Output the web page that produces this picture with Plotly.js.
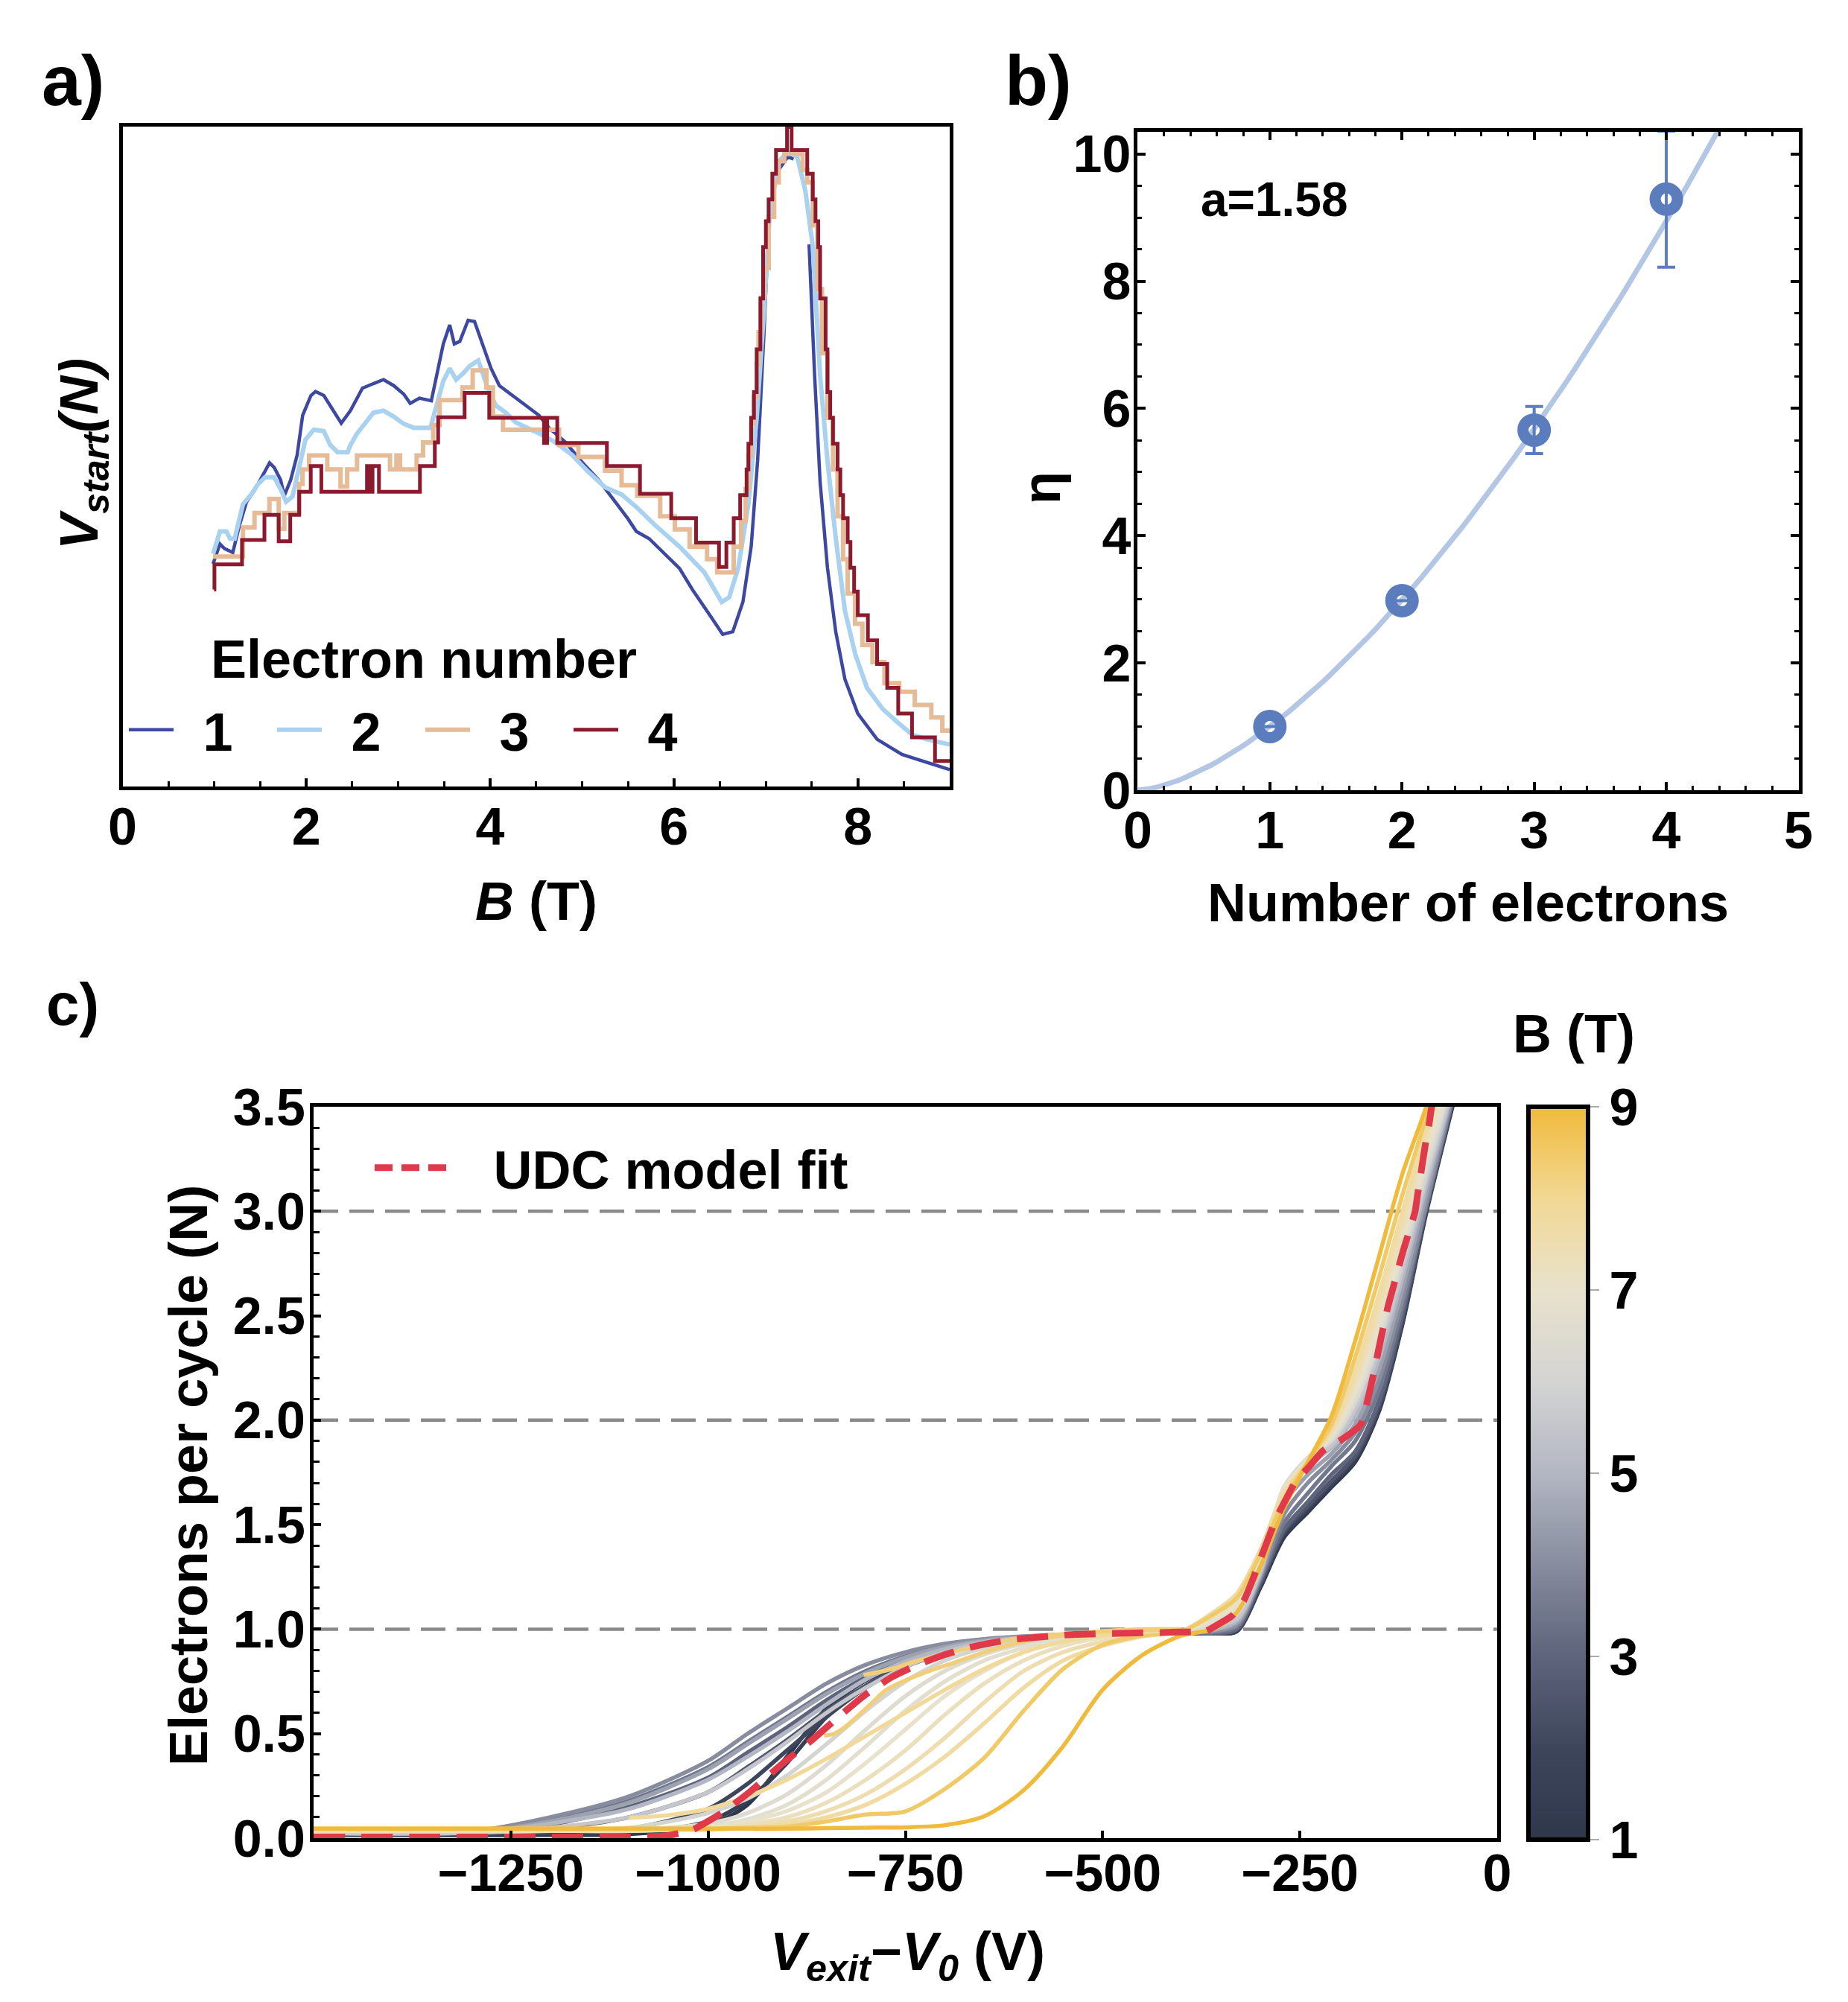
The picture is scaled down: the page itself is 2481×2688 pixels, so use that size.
<!DOCTYPE html>
<html><head><meta charset="utf-8">
<script src="https://cdn.plot.ly/plotly-3.0.1.min.js"></script>
<style>html,body{margin:0;padding:0;background:#fff}</style>
</head><body>
<div id="chart" style="width:2481px;height:2688px"></div>
<script>
// ================= DATA =================
// ---- Panel a: V_start(N) vs B (arbitrary units 0-100) ----
const electronLabels = ['1', '2', '3', '4'];
const a1B = [0.985,1.06,1.11,1.20,1.27,1.35,1.44,1.53,1.60,1.65,1.72,1.76,1.83,1.90,1.96,2.05,2.10,2.19,2.30,2.38,2.48,2.61,2.73,2.84,2.95,3.06,3.13,3.23,3.36,3.43,3.49,3.56,3.61,3.67,3.76,3.83,3.88,3.94,4.01,4.10,4.24,4.39,4.53,4.64,4.82,5.00,5.18,5.36,5.50,5.59,5.73,6.06,6.20,6.40,6.53,6.64,6.75,6.84,6.91,6.98,7.03,7.11,7.24,7.30,7.40,7.47,7.53,7.59,7.67,7.76,7.86,8.00,8.21,8.48,8.75,8.92,9.0];
const a1V = [33.7,36.7,36.0,35.4,39.4,43.1,44.9,47.2,49.0,48.3,46.4,44.0,46.4,50.2,56.2,59.2,59.8,59.2,56.9,55.0,56.9,60.3,61.0,61.6,60.7,59.4,58.0,58.8,58.4,63.3,67.0,69.9,67.0,67.4,70.6,70.4,68.5,66.0,63.3,60.7,59.2,57.7,56.2,54.3,52.1,49.1,46.4,43.1,40.5,38.6,37.5,33.0,29.8,25.7,23.0,23.4,27.9,36.3,49.3,68.8,85.0,92.8,95.4,95.0,null,82.1,62.3,46.1,33.1,23.4,16.2,11.0,7.1,4.8,3.6,2.9,2.5];
const a2B = [0.985,1.06,1.13,1.17,1.22,1.31,1.40,1.47,1.55,1.65,1.72,1.78,1.85,1.92,1.99,2.08,2.19,2.26,2.34,2.45,2.48,2.55,2.66,2.73,2.84,2.95,3.06,3.17,3.35,3.42,3.49,3.56,3.63,3.71,3.78,3.87,3.92,3.99,4.06,4.17,4.28,4.46,4.57,4.71,4.89,5.07,5.25,5.43,5.59,5.79,6.06,6.33,6.52,6.60,6.70,6.81,6.90,6.98,7.04,7.14,7.24,7.34,7.43,7.51,7.59,7.67,7.76,7.86,7.97,8.10,8.27,8.43,8.59,8.75,8.92,9.0];
const a2V = [35.2,38.6,38.6,37.5,37.5,42.7,44.2,45.7,46.8,46.8,45.0,43.1,43.9,48.0,52.5,54.0,53.8,51.7,50.6,50.6,51.7,53.4,55.3,56.6,56.9,56.0,54.9,54.3,54.3,57.7,61.4,63.3,61.6,62.6,63.7,64.5,62.3,59.7,57.7,56.6,55.1,54.0,53.2,52.1,50.2,47.6,45.3,44.2,42.3,39.6,36.3,32.4,27.9,28.6,33.1,42.8,55.8,72.0,86.3,94.7,96.1,95.4,90.2,81.8,62.3,49.3,37.6,26.6,20.1,14.9,11.7,9.7,7.8,7.1,6.5,6.3];
const a3B = [0.985,1.31,1.436,1.598,1.70,1.76,1.922,1.958,2.03,2.228,2.372,2.444,2.552,2.91,2.98,3.02,3.20,3.27,3.38,3.45,3.70,3.81,3.96,4.03,4.14,4.75,4.96,5.25,5.43,5.60,5.85,6.01,6.17,6.36,6.47,6.65,6.73,6.78,6.81,6.84,6.87,6.90,6.92,6.95,6.98,7.03,7.09,7.14,7.20,7.40,7.45,7.51,7.56,7.61,7.67,7.73,7.78,7.84,7.89,7.97,8.05,8.16,8.29,8.45,8.62,8.80,8.92,9.0];
const a3V = [34.8,39.2,41.4,43.5,39.0,41.4,45.8,48.0,50.1,48.0,45.4,48.0,50.1,48.0,50.1,48.0,50.1,52.1,54.7,58.5,60.4,63.0,60.4,56.0,54.0,51.7,49.9,47.8,45.6,44.0,40.9,38.9,36.3,34.4,32.4,36.3,40.2,45.0,50.0,55.0,59.0,64.0,68.8,74.0,78.5,86.3,91.5,94.7,95.8,93.4,91.5,85.0,75.3,65.6,55.8,48.0,40.9,34.4,29.2,24.6,21.4,18.8,15.6,14.3,12.3,10.4,8.4,8.4];
const a4B = [0.996,1.0,1.30,1.544,1.699,1.825,1.922,2.048,2.163,2.66,2.70,2.72,2.79,3.236,3.398,3.434,3.722,3.99,4.586,4.62,4.73,5.27,5.63,5.97,6.24,6.49,6.57,6.65,6.72,6.79,6.81,6.84,6.87,6.90,6.94,6.97,7.00,7.03,7.07,7.11,7.23,7.28,7.45,7.51,7.54,7.57,7.59,7.65,7.67,7.70,7.73,7.78,7.81,7.84,7.89,7.92,7.96,8.00,8.11,8.21,8.32,8.44,8.59,8.84,9.0];
const a4V = [29.8,33.6,37.3,41.1,37.1,41.1,44.6,48.5,44.6,48.5,44.6,48.5,44.6,48.5,52.1,55.9,59.6,55.8,52.0,55.8,52.0,48.5,44.3,40.6,36.9,33.2,36.9,40.6,44.1,48.0,51.9,55.8,59.7,66.2,73.9,81.7,85.6,88.9,92.8,96.4,99.9,96.4,92.8,88.9,85.6,81.7,73.9,66.2,59.7,55.8,51.9,48.0,44.1,40.6,37.0,33.1,29.5,25.9,22.1,18.5,14.9,11.0,7.4,3.8,3.8];

// ---- Panel b: eta vs number of electrons ----
const bN = [1, 2, 3, 4];
const bEta = [1.0, 2.98, 5.66, 9.29];
const bErr = [0, 0, 0.37, 1.07];
const fitExponent = 1.58;
const fitN = [];
for (let i = 0; i <= 90; i++) fitN.push(i * 0.05);

// ---- Panel c: electrons per cycle vs V_exit - V0 ----
const cV = [-1500,-1300,-1200,-1100,-1000,-950,-900,-850,-800,-750,-700,-650,-600,-550,-500,-450,-400,-360,-330,-300,-270,-240,-210,-180,-150,-120,-90,-60,-40];
const cFieldB = [1, 1.5, 2, 2.5, 3, 3.5, 4, 4.5, 5, 5.5, 6, 6.5, 6.75, 7, 7.25, 7.5, 7.75, 8.5, 9];
const cCurves = [
 [0.015,0.015,0.015,0.02,0.06,0.16,0.39,0.62,0.755,0.84,0.90,0.94,0.958,0.968,0.975,0.98,0.983,0.98,0.99,1.20,1.44,1.56,1.68,1.80,2.04,2.46,2.99,3.45,3.75],
 [0.015,0.015,0.017,0.025,0.08,0.18,0.36,0.58,0.73,0.83,0.895,0.935,0.955,0.966,0.974,0.979,0.983,0.98,0.99,1.21,1.45,1.57,1.69,1.81,2.05,2.47,3.0,3.46,3.76],
 [0.02,0.02,0.025,0.045,0.14,0.26,0.42,0.58,0.72,0.82,0.885,0.928,0.952,0.965,0.973,0.978,0.983,0.98,0.995,1.21,1.46,1.58,1.70,1.82,2.05,2.47,3.0,3.46,3.76],
 [0.02,0.022,0.045,0.10,0.22,0.34,0.47,0.61,0.73,0.83,0.89,0.93,0.953,0.966,0.974,0.979,0.984,0.98,1.0,1.22,1.47,1.59,1.71,1.83,2.07,2.49,3.01,3.47,3.77],
 [0.02,0.025,0.065,0.15,0.29,0.41,0.53,0.66,0.77,0.85,0.905,0.94,0.958,0.968,0.975,0.98,0.985,0.98,1.0,1.23,1.48,1.61,1.74,1.85,2.09,2.51,3.03,3.48,3.78],
 [0.025,0.03,0.085,0.18,0.34,0.46,0.58,0.70,0.80,0.87,0.915,0.945,0.962,0.971,0.977,0.982,0.986,0.985,1.01,1.24,1.51,1.65,1.78,1.90,2.14,2.54,3.02,3.48,3.78],
 [0.025,0.032,0.10,0.20,0.37,0.50,0.62,0.74,0.83,0.89,0.93,0.953,0.966,0.974,0.979,0.983,0.987,0.99,1.02,1.25,1.55,1.70,1.81,1.94,2.19,2.58,3.04,3.5,3.8],
 [0.025,0.03,0.08,0.17,0.33,0.45,0.57,0.69,0.79,0.865,0.915,0.946,0.963,0.972,0.978,0.982,0.986,0.995,1.03,1.26,1.60,1.74,1.84,1.98,2.24,2.63,3.08,3.52,3.8],
 [0.025,0.028,0.07,0.14,0.28,0.39,0.51,0.64,0.76,0.845,0.905,0.94,0.96,0.97,0.977,0.982,0.987,1.0,1.04,1.27,1.65,1.78,1.87,2.02,2.29,2.68,3.12,3.53,3.82],
 [0.025,0.026,0.05,0.10,0.22,0.33,0.46,0.60,0.72,0.82,0.89,0.932,0.956,0.968,0.976,0.982,0.988,1.01,1.05,1.28,1.67,1.80,1.88,2.05,2.33,2.72,3.15,3.55,3.85],
 [0.03,0.03,0.035,0.05,0.12,0.19,0.30,0.45,0.61,0.75,0.85,0.91,0.945,0.965,0.975,0.983,0.99,1.02,1.07,1.30,1.68,1.82,1.90,2.08,2.37,2.76,3.18,3.58,3.85],
 [0.035,0.035,0.035,0.04,0.07,0.12,0.21,0.35,0.52,0.68,0.80,0.88,0.93,0.96,0.975,0.985,0.99,1.03,1.09,1.32,1.68,1.82,1.91,2.10,2.40,2.80,3.22,3.6,3.88],
 [0.035,0.035,0.035,0.035,0.055,0.09,0.16,0.28,0.44,0.61,0.75,0.85,0.91,0.95,0.97,0.985,0.99,1.04,1.10,1.33,1.67,1.81,1.92,2.12,2.43,2.82,3.25,3.6,3.88],
 [0.035,0.035,0.035,0.035,0.05,0.08,0.13,0.22,0.36,0.52,0.68,0.80,0.89,0.94,0.965,0.98,0.99,1.05,1.12,1.35,1.67,1.81,1.93,2.14,2.46,2.86,3.28,3.65,3.9],
 [0.035,0.035,0.035,0.035,0.045,0.065,0.10,0.17,0.28,0.42,0.59,0.74,0.85,0.92,0.96,0.98,0.99,1.06,1.14,1.37,1.66,1.80,1.94,2.17,2.50,2.90,3.32,3.7,3.9],
 [0.04,0.04,0.04,0.04,0.04,0.055,0.08,0.13,0.21,0.33,0.48,0.65,0.80,0.89,0.94,0.97,0.99,1.07,1.16,1.38,1.66,1.80,1.95,2.20,2.55,2.95,3.36,3.75,3.95],
 [0.04,0.04,0.04,0.04,0.04,0.05,0.065,0.10,0.16,0.26,0.39,0.55,0.72,0.85,0.92,0.965,0.99,1.08,1.17,1.38,1.65,1.80,1.96,2.24,2.60,3.00,3.40,3.8,4.0],
 [0.045,0.045,0.045,0.045,0.045,0.05,0.055,0.08,0.113,0.128,0.235,0.385,0.61,0.81,0.925,0.97,0.99,1.07,1.15,1.36,1.62,1.80,1.98,2.30,2.68,3.08,3.45,3.85,4.0],
 [0.045,0.045,0.045,0.045,0.045,0.045,0.045,0.048,0.05,0.052,0.062,0.105,0.23,0.44,0.71,0.875,0.97,1.0,1.08,1.30,1.58,1.80,2.02,2.38,2.78,3.18,3.50,3.9,4.0]
];
// partial sweeps
const cPartB = [7.9, 8.3, 8.3];
const cPartV = [
 [-1100,-1050,-1000,-950,-900,-850,-800,-750,-700,-650,-600,-550,-500,-450,-400],
 [-853,-840,-827,-800,-774,-747,-720,-688,-650,-600,-550,-500,-450,-400],
 [-803,-767,-734,-701,-668,-602,-536,-469,-400]
];
const cPartN = [
 [0.097,0.11,0.14,0.20,0.28,0.38,0.49,0.60,0.71,0.81,0.89,0.94,0.97,0.985,0.995],
 [0.49,0.50,0.53,0.62,0.71,0.76,0.80,0.84,0.89,0.94,0.97,0.99,1.0,1.0],
 [0.78,0.81,0.85,0.88,0.91,0.96,0.98,0.995,1.0]
];
// UDC model fit
const udcV = [-1500,-1330,-1200,-1100,-1052,-1019,-999,-979,-946,-906,-867,-827,-800,-767,-734,-701,-668,-628,-602,-569,-536,-469,-403,-370,-355,-336,-321,-305,-292,-280,-267,-255,-239,-220,-198,-173,-167,-157,-148,-138.5,-129,-119.7,-110.3,-104,-100.8,-96.1,-91.4,-86.7,-83.5,-78];
const udcN = [0.005,0.005,0.005,0.006,0.012,0.041,0.083,0.130,0.225,0.356,0.474,0.605,0.688,0.771,0.830,0.877,0.913,0.943,0.955,0.966,0.975,0.981,0.986,0.99,1.02,1.064,1.137,1.285,1.415,1.53,1.627,1.709,1.775,1.856,1.905,1.979,2.052,2.215,2.379,2.542,2.673,2.803,2.918,2.999,3.081,3.195,3.31,3.407,3.489,3.6];
const refLevels = [1, 2, 3];
const cbTicks = [1, 3, 5, 7, 9];

// ================= STYLE =================
const W = 2481, H = 2688;
const X = p => p / W, Y = p => 1 - p / H;
const FAM = 'Liberation Sans, Arial, Helvetica, sans-serif';
const F = (s, extra) => Object.assign({family: FAM, size: s, color: '#000', weight: 'bold'}, extra || {});
const NB = '\u00a0', THIN = '\u2009';
const aColors = ['#3d48a0', '#a9d1f0', '#e6bb97', '#8b1a2e'];
const aWidths = [4.5, 6, 6, 5];
const cScale = [[0,'#2f374b'],[0.125,'#3e465c'],[0.25,'#5d647b'],[0.375,'#878c9e'],[0.5,'#b3b7c3'],[0.625,'#d4d4d3'],[0.75,'#e8e2cc'],[0.875,'#f2d894'],[1,'#f0bb3c']];
function hex2rgb(h){ return [parseInt(h.slice(1,3),16), parseInt(h.slice(3,5),16), parseInt(h.slice(5,7),16)]; }
function colorFor(b){
  const t = (b - 1) / 8;
  for (let i = 1; i < cScale.length; i++) {
    if (t <= cScale[i][0]) {
      const t0 = cScale[i-1][0], t1 = cScale[i][0];
      const f = (t - t0) / (t1 - t0);
      const c0 = hex2rgb(cScale[i-1][1]), c1 = hex2rgb(cScale[i][1]);
      return 'rgb(' + c0.map((v, k) => Math.round(v + (c1[k] - v) * f)).join(',') + ')';
    }
  }
  return cScale[cScale.length-1][1];
}

// ================= TRACES =================
const traces = [];
const aB = [a1B, a2B, a3B, a4B], aV = [a1V, a2V, a3V, a4V];
for (let i = 0; i < 4; i++) {
  traces.push({
    x: aB[i], y: aV[i], xaxis: 'x', yaxis: 'y', mode: 'lines', name: NB + THIN + electronLabels[i],
    line: {color: aColors[i], width: aWidths[i], shape: (i >= 2 ? 'hv' : 'linear')},
    connectgaps: false, legend: 'legend', showlegend: true, hoverinfo: 'skip'
  });
}
// panel b
traces.push({
  x: fitN, y: fitN.map(n => Math.pow(n, fitExponent)), xaxis: 'x2', yaxis: 'y2', mode: 'lines',
  line: {color: '#b3c6e3', width: 7}, showlegend: false, hoverinfo: 'skip'
});
traces.push({
  x: bN, y: bEta, xaxis: 'x2', yaxis: 'y2', mode: 'markers',
  marker: {symbol: 'circle-open', size: 30, color: '#5b7dbd', line: {width: 15, color: '#5b7dbd'}},
  error_y: {type: 'data', array: bErr, visible: true, color: '#5b7dbd', thickness: 4, width: 12},
  showlegend: false, hoverinfo: 'skip'
});
// panel c
for (let i = 0; i < cCurves.length; i++) {
  traces.push({
    x: cV, y: cCurves[i], xaxis: 'x3', yaxis: 'y3', mode: 'lines',
    line: {color: colorFor(cFieldB[i]), width: 5.5, shape: 'spline', smoothing: 0.8},
    showlegend: false, hoverinfo: 'skip'
  });
}
for (let i = 0; i < cPartV.length; i++) {
  traces.push({
    x: cPartV[i], y: cPartN[i], xaxis: 'x3', yaxis: 'y3', mode: 'lines',
    line: {color: colorFor(cPartB[i]), width: 5.5, shape: 'spline', smoothing: 0.8},
    showlegend: false, hoverinfo: 'skip'
  });
}
traces.push({
  x: udcV, y: udcN, xaxis: 'x3', yaxis: 'y3', mode: 'lines',
  line: {color: '#e03a4a', width: 9, dash: '42px,22px', shape: 'spline', smoothing: 0.6},
  showlegend: false, hoverinfo: 'skip'
});
// legend entry for the fit
traces.push({
  x: [null], y: [null], xaxis: 'x3', yaxis: 'y3', mode: 'lines', name: NB + NB + THIN + 'UDC model fit',
  line: {color: '#e03a4a', width: 9, dash: '24px,12px'}, legend: 'legend2', showlegend: true, hoverinfo: 'skip'
});
// colorbar
traces.push({
  x: [null], y: [null], xaxis: 'x3', yaxis: 'y3', mode: 'markers', showlegend: false, hoverinfo: 'skip',
  marker: {color: [1], cmin: 1, cmax: 9, colorscale: cScale, showscale: true,
    colorbar: {x: X(2052), xanchor: 'left', y: Y(1486), yanchor: 'top', len: (2470-1486)/H, lenmode: 'fraction',
      thickness: 80, thicknessmode: 'pixels', outlinewidth: 6, outlinecolor: '#000', xpad: 0, ypad: 0,
      tickvals: cbTicks, ticks: 'outside', ticklen: 12, tickwidth: 2, tickcolor: '#aaa',
      tickfont: F(70), borderwidth: 0}}
});

// ================= LAYOUT =================
const axLine = {showline: true, linewidth: 5, linecolor: '#000', showgrid: false, zeroline: false, automargin: false};
const layout = {
  width: W, height: H, margin: {l: 0, r: 0, t: 0, b: 0}, paper_bgcolor: '#fff', plot_bgcolor: '#fff',
  font: F(70), showlegend: true,
  xaxis: Object.assign({}, axLine, {domain: [X(164.5), X(1275)], range: [0, 9], anchor: 'y', mirror: true,
    ticks: 'inside', ticklen: 11, tickwidth: 4, tickcolor: '#000', tick0: 0, dtick: 2,
    minor: {ticks: 'inside', dtick: 0.5, ticklen: 7, tickwidth: 3, tickcolor: '#000'},
    tickfont: F(70), ticklabelstandoff: -11}),
  yaxis: Object.assign({}, axLine, {domain: [Y(1055.5), Y(169.5)], range: [0, 100], anchor: 'x', mirror: true,
    showticklabels: false, ticks: ''}),
  xaxis2: Object.assign({}, axLine, {domain: [X(1527.4), X(2414.5)], range: [0, 5], anchor: 'y2', mirror: 'ticks',
    ticks: 'inside', ticklen: 11, tickwidth: 4, tickcolor: '#000', tick0: 0, dtick: 1,
    minor: {ticks: 'inside', dtick: 0.2, ticklen: 6, tickwidth: 3, tickcolor: '#000'},
    tickfont: F(70), ticklabelstandoff: -11}),
  yaxis2: Object.assign({}, axLine, {domain: [Y(1061), Y(176.8)], range: [0, 10.35], anchor: 'x2', mirror: 'ticks',
    ticks: 'inside', ticklen: 11, tickwidth: 4, tickcolor: '#000', tick0: 0, dtick: 2,
    minor: {ticks: 'inside', dtick: 0.5, ticklen: 6, tickwidth: 3, tickcolor: '#000'},
    tickfont: F(70), ticklabelstandoff: -10}),
  xaxis3: Object.assign({}, axLine, {domain: [X(421), X(2010)], range: [-1500, 0], anchor: 'y3', mirror: true,
    ticks: 'inside', ticklen: 10, tickwidth: 4, tickcolor: '#000', tickvals: [-1250, -1000, -750, -500, -250, 0],
    tickfont: F(70), ticklabelstandoff: -18}),
  yaxis3: Object.assign({}, axLine, {domain: [Y(2468), Y(1486)], range: [0, 3.5], anchor: 'x3', mirror: true,
    ticks: 'inside', ticklen: 10, tickwidth: 4, tickcolor: '#000', tick0: 0, dtick: 0.5, tickformat: '.1f',
    minor: {ticks: 'inside', dtick: 0.1, ticklen: 8, tickwidth: 3, tickcolor: '#000'},
    tickfont: F(70), ticklabelstandoff: -8}),
  legend: {x: X(168), y: Y(980), xanchor: 'left', yanchor: 'middle', orientation: 'h', font: F(72),
    entrywidth: 124, entrywidthmode: 'pixels', itemwidth: 60, bgcolor: 'rgba(0,0,0,0)', borderwidth: 0, traceorder: 'normal'},
  legend2: {x: X(498), y: Y(1568), xanchor: 'left', yanchor: 'middle', orientation: 'v', font: F(72),
    itemwidth: 100, bgcolor: 'rgba(0,0,0,0)', borderwidth: 0},
  shapes: refLevels.map(v => ({type: 'line', xref: 'x3 domain', yref: 'y3', x0: 0, x1: 1, y0: v, y1: v, layer: 'below',
    line: {color: '#8a8a8a', width: 4.5, dash: '33px,15px'}})),
  annotations: [
    {text: 'a)', x: X(54), y: Y(108), xanchor: 'left', yanchor: 'middle', font: F(95), showarrow: false, xref: 'paper', yref: 'paper'},
    {text: 'b)', x: X(1347), y: Y(108), xanchor: 'left', yanchor: 'middle', font: F(95), showarrow: false, xref: 'paper', yref: 'paper'},
    {text: 'c)', x: X(60), y: Y(1348), xanchor: 'left', yanchor: 'middle', font: F(80), showarrow: false, xref: 'paper', yref: 'paper'},
    {text: 'a=1.58', x: X(1610), y: Y(268), xanchor: 'left', yanchor: 'middle', font: F(64), showarrow: false, xref: 'paper', yref: 'paper'},
    {text: 'Electron number', x: X(281), y: Y(885), xanchor: 'left', yanchor: 'middle', font: F(72), showarrow: false, xref: 'paper', yref: 'paper'},
    {text: '<i>B</i> (T)', x: X(720), y: Y(1210), xanchor: 'center', yanchor: 'middle', font: F(72), showarrow: false, xref: 'paper', yref: 'paper'},
    {text: '<i>V<sub>start</sub>(N)</i>', x: X(111), y: Y(610), xanchor: 'center', yanchor: 'middle', textangle: -90, font: F(72), showarrow: false, xref: 'paper', yref: 'paper'},
    {text: 'Number of electrons', x: X(1971), y: Y(1212), xanchor: 'center', yanchor: 'middle', font: F(72), showarrow: false, xref: 'paper', yref: 'paper'},
    {text: 'η', x: X(1398), y: Y(655), xanchor: 'center', yanchor: 'middle', textangle: -90, font: F(72), showarrow: false, xref: 'paper', yref: 'paper'},
    {text: 'Electrons per cycle (N)', x: X(253), y: Y(1981), xanchor: 'center', yanchor: 'middle', textangle: -90, font: F(72), showarrow: false, xref: 'paper', yref: 'paper'},
    {text: '<i>V<sub>exit</sub></i>−<i>V<sub>0</sub></i> (V)', x: X(1218), y: Y(2625), xanchor: 'center', yanchor: 'middle', font: F(72), showarrow: false, xref: 'paper', yref: 'paper'},
    {text: 'B (T)', x: X(2113), y: Y(1388), xanchor: 'center', yanchor: 'middle', font: F(72), showarrow: false, xref: 'paper', yref: 'paper'}
  ]
};
Plotly.newPlot('chart', traces, layout, {staticPlot: true, displayModeBar: false});
</script>
</body></html>
